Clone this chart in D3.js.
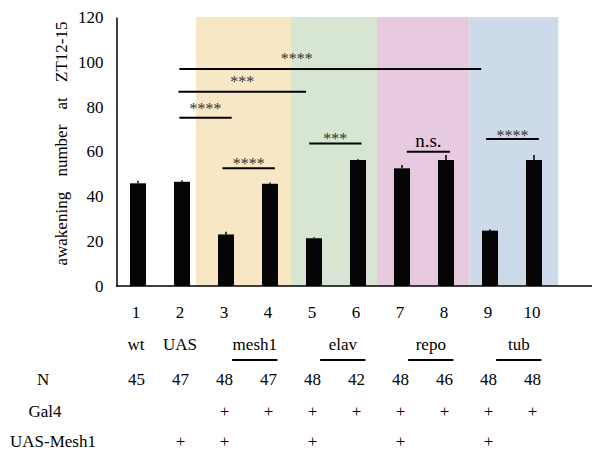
<!DOCTYPE html>
<html>
<head>
<meta charset="utf-8">
<script src="https://cdn.jsdelivr.net/npm/d3@7"></script>
<style>
  html, body { margin: 0; padding: 0; background: #fff; }
  svg { display: block; }
</style>
</head>
<body>
<svg id="chart" width="594" height="454"></svg>
<script>
// Lane numbers and awakening counts (mean, upper error) during ZT12-15
const lanes = ["1", "2", "3", "4", "5", "6", "7", "8", "9", "10"];
const awakening = [45.8, 46.5, 23.0, 45.6, 21.3, 56.2, 52.5, 56.2, 24.7, 56.2];
const errorUp = [1.2, 0.7, 1.2, 0.6, 0.5, 0.3, 1.5, 2.2, 0.6, 2.2];
const yTicks = [0, 20, 40, 60, 80, 100, 120];

// Genotype table under the bars
const sampleN = [45, 47, 48, 47, 48, 42, 48, 46, 48, 48];
const gal4 = [false, false, true, true, true, true, true, true, true, true];
const uasMesh1 = [false, true, true, false, true, false, true, false, true, false];
const singleNames = [{ lane: 1, name: "wt" }, { lane: 2, name: "UAS" }];
const driverNames = ["mesh1", "elav", "repo", "tub"];
const driverLanes = [[3, 4], [5, 6], [7, 8], [9, 10]];
const driverColors = ["#f8e7c4", "#d6e6d2", "#e7cae0", "#cddaea"];

// Significance brackets: lanes spanned, height on the value axis, label
const brackets = [
  { from: 1.94, to: 8.80, at: 96.8, label: "****", labelAt: 4.61, labelY: 99.2 },
  { from: 1.92, to: 4.82, at: 86.7, label: "***",  labelY: 88.9 },
  { from: 1.94, to: 3.13, at: 75.1, label: "****", labelY: 76.8 },
  { from: 2.92, to: 4.11, at: 52.5, label: "****", labelY: 52.4 },
  { from: 4.89, to: 6.08, at: 63.6, label: "***",  labelY: 63.2 },
  { from: 7.11, to: 8.09, at: 59.9, label: "n.s.", labelY: 62.0, big: true },
  { from: 8.91, to: 10.11, at: 65.6, label: "****", labelY: 64.9 }
];

const FONT = "Liberation Serif";
const svg = d3.select("#chart");
const plotLeft = 116, plotRight = 556, plotTop = 17, plotBase = 286;

const x = d3.scaleBand().domain(lanes).range([plotLeft, plotRight])
  .paddingInner(0.636).paddingOuter(0.318);
// continuous lane index (lane i sits at i) for brackets and shading
const xi = d3.scaleLinear().domain([0.5, lanes.length + 0.5]).range([plotLeft, plotRight]);
const y = d3.scaleLinear().domain([0, 120]).range([plotBase, plotTop]);
const cx = i => x(lanes[i]) + x.bandwidth() / 2;

// Coloured backgrounds behind each driver pair
const shadeEdges = [2.32, 4.48, 6.43, 8.53, 10.55];
svg.append("g").selectAll("rect").data(driverColors).join("rect")
  .attr("x", (d, i) => xi(shadeEdges[i]))
  .attr("width", (d, i) => xi(shadeEdges[i + 1]) - xi(shadeEdges[i]))
  .attr("y", y(120))
  .attr("height", y(0) - y(120))
  .attr("fill", d => d);

// Bars
svg.append("g").selectAll("rect").data(awakening).join("rect")
  .attr("x", (d, i) => x(lanes[i]))
  .attr("width", x.bandwidth())
  .attr("y", d => y(d))
  .attr("height", d => y(0) - y(d))
  .attr("fill", "#050505");

// Upper error whiskers
svg.append("g").selectAll("line").data(awakening).join("line")
  .attr("x1", (d, i) => cx(i)).attr("x2", (d, i) => cx(i))
  .attr("y1", d => y(d))
  .attr("y2", (d, i) => y(d + errorUp[i]))
  .attr("stroke", "#000").attr("stroke-width", 1.5);

// Value axis
const yAxis = svg.append("g")
  .attr("transform", `translate(${plotLeft + 0.5},0)`)
  .call(d3.axisLeft(y).tickValues(yTicks).tickSize(0).tickPadding(13));
yAxis.select(".domain").attr("stroke", "#000").attr("stroke-width", 1.5);
yAxis.selectAll("text").attr("fill", "#000");

// Baseline runs across the full plot width
svg.append("line")
  .attr("x1", plotLeft).attr("x2", 592)
  .attr("y1", y(0)).attr("y2", y(0))
  .attr("stroke", "#000").attr("stroke-width", 1.5);

// Axis title
svg.append("text").attr("class", "title")
  .attr("transform", "translate(67,143.5) rotate(-90)")
  .attr("text-anchor", "middle")
  .style("word-spacing", "11px")
  .text("awakening number at ZT12-15");

// Significance brackets
const sig = svg.append("g");
sig.selectAll("line").data(brackets).join("line")
  .attr("x1", d => xi(d.from)).attr("x2", d => xi(d.to))
  .attr("y1", d => y(d.at)).attr("y2", d => y(d.at))
  .attr("stroke", "#000").attr("stroke-width", 2);
sig.selectAll("text").data(brackets).join("text").attr("class", "sig")
  .attr("x", d => xi(d.labelAt !== undefined ? d.labelAt : (d.from + d.to) / 2))
  .attr("y", d => y(d.labelY))
  .attr("text-anchor", "middle")
  .text(d => d.label);

// Table under the chart
const table = svg.append("g");
const rowY = { lane: 318, name: 350, n: 384.5, gal4: 416.5, uas: 446.5 };

table.selectAll("text.lane").data(lanes).join("text").attr("class", "lane")
  .attr("x", (d, i) => cx(i) - 2).attr("y", rowY.lane)
  .attr("text-anchor", "middle").text(d => d);

table.selectAll("text.single").data(singleNames).join("text").attr("class", "single")
  .attr("x", d => cx(d.lane - 1) - 2).attr("y", rowY.name)
  .attr("text-anchor", "middle").text(d => d.name);

const ulFrom = p => xi(p[0] + 0.14), ulTo = p => xi(p[1] + 0.17);
table.selectAll("text.driver").data(driverNames).join("text").attr("class", "driver")
  .attr("x", (d, i) => (ulFrom(driverLanes[i]) + ulTo(driverLanes[i])) / 2)
  .attr("y", rowY.name)
  .attr("text-anchor", "middle").text(d => d);
table.selectAll("line.driver").data(driverLanes).join("line").attr("class", "driver")
  .attr("x1", ulFrom).attr("x2", ulTo)
  .attr("y1", 360).attr("y2", 360)
  .attr("stroke", "#000").attr("stroke-width", 2);

table.selectAll("text.n").data(sampleN).join("text").attr("class", "n")
  .attr("x", (d, i) => cx(i) - 1.5).attr("y", rowY.n)
  .attr("text-anchor", "middle").text(d => d);

table.selectAll("text.gal4").data(gal4).join("text").attr("class", "gal4")
  .attr("x", (d, i) => cx(i) - 1.5).attr("y", rowY.gal4)
  .attr("text-anchor", "middle").text(d => d ? "+" : "");

table.selectAll("text.uas").data(uasMesh1).join("text").attr("class", "uas")
  .attr("x", (d, i) => cx(i) - 1.5).attr("y", rowY.uas)
  .attr("text-anchor", "middle").text(d => d ? "+" : "");

table.append("text").attr("x", 37).attr("y", rowY.n).text("N");
table.append("text").attr("x", 28.5).attr("y", rowY.gal4).text("Gal4");
table.append("text").attr("x", 10).attr("y", rowY.uas).text("UAS-Mesh1");

// Every label shares one serif face
svg.selectAll("text")
  .attr("font-family", null)
  .style("font-family", FONT)
  .attr("font-size", 17)
  .attr("fill", "#000");
svg.selectAll("g").attr("font-family", null).attr("font-size", null);
svg.selectAll("text.sig")
  .attr("font-size", d => d.big ? 19 : 16)
  .attr("fill", d => d.big ? "#000" : "#333");
</script>
</body>
</html>
